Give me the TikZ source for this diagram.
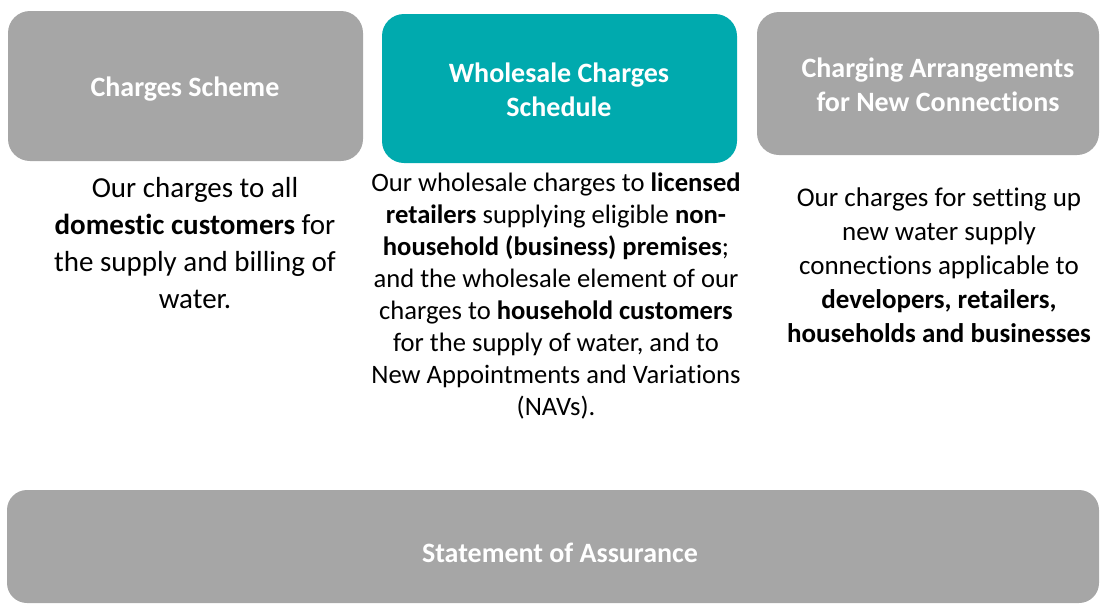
\documentclass[tikz,border=0pt]{standalone}
\usepackage{fontspec}
\setmainfont{Carlito}[Ligatures=NoCommon]
\definecolor{boxgray}{HTML}{A6A6A6}
\definecolor{boxteal}{HTML}{00AAAE}
\begin{document}
\begin{tikzpicture}[x=1pt,y=-1pt,
  panel/.style={fill=boxgray, draw=none, rounded corners=22pt},
  tealpanel/.style={fill=boxteal, draw=none, rounded corners=22pt},
  title/.style={text=white, font=\fontsize{28}{34}\selectfont\bfseries, align=center, inner sep=0pt},
  body/.style={text=black, align=center, inner sep=0pt}]
\useasboundingbox (0,0) rectangle (1100,603);
% panels
\path[panel] (8,11) rectangle (363,161);
\path[tealpanel] (382,14) rectangle (737,163);
\path[panel] (757,12) rectangle (1099,155);
\path[panel, rounded corners=20pt] (7,490) rectangle (1099,603);
% titles
\node[title] (t1) at (185,89) {Charges Scheme};
\node[title] (t2) at (559,90) {Wholesale Charges\\Schedule};
\node[title] (t3) at (938,85) {Charging Arrangements\\for New Connections};
\node[title] (t4) at (560,553) {Statement of Assurance};
% bodies
\node[body, font=\fontsize{29}{37}\selectfont, anchor=north] (b1) at (195,177)
  {Our charges to all\\\textbf{domestic customers} for\\the supply and billing of\\water.};
\node[body, font=\fontsize{26.6}{32}\selectfont, anchor=north] (b2) at (556,173)
  {Our wholesale charges to \textbf{licensed}\\\textbf{retailers} supplying eligible \textbf{non-}\\\textbf{household (business) premises};\\and the wholesale element of our\\charges to \textbf{household customers}\\for the supply of water, and to\\New Appointments and Variations\\(NAVs).};
\node[body, font=\fontsize{27}{34}\selectfont, anchor=north] (b3) at (939,188)
  {Our charges for setting up\\new water supply\\connections applicable to\\\textbf{developers, retailers,}\\\textbf{households and businesses}};
\end{tikzpicture}
\end{document}
